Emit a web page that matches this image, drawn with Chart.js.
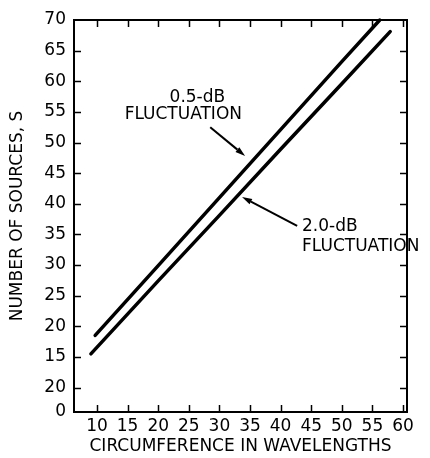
<!DOCTYPE html>
<html>
<head>
<meta charset="utf-8">
<script src="https://cdn.jsdelivr.net/npm/chart.js@4.4.1/dist/chart.umd.min.js"></script>
<style>
  html, body { margin: 0; padding: 0; background: #fff; }
  #wrap { width: 430px; height: 458px; }
</style>
</head>
<body>
<div id="wrap"><canvas id="c" width="430" height="458"></canvas></div>
<script>
/* ---------- data ---------- */
const circ05  = [9.7, 20, 30, 40, 50, 56.2];          // circumference, 0.5-dB curve
const src05   = [18.5, 29.9, 41.0, 52.1, 63.2, 70];    // number of sources
const circ20  = [9.0, 20, 30, 40, 50, 57.9];          // circumference, 2.0-dB curve
const src20   = [15.5, 27.4, 38.1, 48.9, 59.6, 68.1];

const xTickValues = [10, 15, 20, 25, 30, 35, 40, 45, 50, 55, 60];
const yTickValues = [6, 10, 15, 20, 25, 30, 35, 40, 45, 50, 55, 60, 65, 70];
// axis is broken at the bottom; labels are printed as in the original
const yTickLabels = ['0', '20', '15', '20', '25', '30', '35', '40', '45', '50', '55', '60', '65', '70'];

const X_MIN = 6.24, X_MAX = 60.65;
const Y_MIN = 6, Y_MAX = 70;

/* ---------- annotations (placed in data coords) ---------- */
const notes = [
  { text: '0.5-dB',      x: 26.4, y: 57.4, align: 'center' },
  { text: 'FLUCTUATION', x: 24.1, y: 54.5, align: 'center' },
  { text: '2.0-dB',      x: 43.5, y: 36.2, align: 'left' },
  { text: 'FLUCTUATION', x: 43.5, y: 33.0, align: 'left' },
];
const arrows = [
  { from: [28.5, 52.5], to: [34.2, 47.8] },
  { from: [42.7, 36.4], to: [33.7, 41.1] },
];

const FONT = 'DejaVu Sans';
Chart.defaults.font.family = FONT;
Chart.defaults.color = '#000';

const toPts = (xs, ys) => xs.map((v, i) => ({ x: v, y: ys[i] }));

/* frame, inward ticks, labels and arrows */
const frameAndNotes = {
  id: 'frameAndNotes',
  afterDatasetsDraw(chart) {
    const { ctx, chartArea: a, scales: { x, y } } = chart;
    const seg = (x1, y1, x2, y2) => { ctx.beginPath(); ctx.moveTo(x1, y1); ctx.lineTo(x2, y2); ctx.stroke(); };
    ctx.save();
    ctx.strokeStyle = '#000';
    ctx.lineWidth = 2;
    ctx.strokeRect(a.left, a.top, a.right - a.left, a.bottom - a.top);

    ctx.lineWidth = 1.5;
    const T = 7;
    x.ticks.forEach(t => {
      const px = Math.round(x.getPixelForValue(t.value)) + 0.5;
      if (px > a.right - 3) return;
      seg(px, a.bottom, px, a.bottom - T);
      seg(px, a.top, px, a.top + T);
    });
    y.ticks.forEach(t => {
      const py = Math.round(y.getPixelForValue(t.value)) + 0.5;
      if (py < a.top + 3 || py > a.bottom - 3) return;
      seg(a.left, py, a.left + T, py);
      seg(a.right, py, a.right - T, py);
    });

    ctx.font = '17px "' + FONT + '"';
    ctx.fillStyle = '#000';
    ctx.textBaseline = 'middle';
    notes.forEach(n => {
      ctx.textAlign = n.align;
      ctx.fillText(n.text, x.getPixelForValue(n.x), y.getPixelForValue(n.y));
    });

    ctx.lineWidth = 2;
    arrows.forEach(ar => {
      const x1 = x.getPixelForValue(ar.from[0]), y1 = y.getPixelForValue(ar.from[1]);
      const x2 = x.getPixelForValue(ar.to[0]),   y2 = y.getPixelForValue(ar.to[1]);
      const ang = Math.atan2(y2 - y1, x2 - x1);
      const L = 10, W = 3;
      const bx = x2 - L * Math.cos(ang), by = y2 - L * Math.sin(ang);
      seg(x1, y1, bx, by);
      ctx.beginPath();
      ctx.moveTo(x2, y2);
      ctx.lineTo(bx + W * Math.sin(ang), by - W * Math.cos(ang));
      ctx.lineTo(bx - W * Math.sin(ang), by + W * Math.cos(ang));
      ctx.closePath();
      ctx.fill();
    });
    ctx.restore();
  }
};

new Chart(document.getElementById('c'), {
  type: 'line',
  data: {
    datasets: [
      { label: '0.5-dB', data: toPts(circ05, src05) },
      { label: '2.0-dB', data: toPts(circ20, src20) },
    ]
  },
  options: {
    responsive: false,
    animation: false,
    clip: false,
    layout: { padding: { left: 0, top: 20, right: 23, bottom: 0 } },
    elements: {
      line: { borderColor: '#000', borderWidth: 3.5, borderCapStyle: 'round', tension: 0 },
      point: { radius: 0 }
    },
    plugins: { legend: { display: false }, tooltip: { enabled: false } },
    scales: {
      x: {
        type: 'linear', min: X_MIN, max: X_MAX,
        afterBuildTicks: s => { s.ticks = xTickValues.map(v => ({ value: v })); },
        afterFit: s => { s.height = 46; },
        grid: { display: false, drawTicks: false },
        border: { display: false },
        ticks: { font: { size: 17 }, padding: 4, maxRotation: 0, autoSkip: false },
        title: { display: true, text: 'CIRCUMFERENCE IN WAVELENGTHS', font: { size: 17 }, padding: { top: 0, bottom: 1 } }
      },
      y: {
        type: 'linear', min: Y_MIN, max: Y_MAX,
        afterBuildTicks: s => { s.ticks = yTickValues.map(v => ({ value: v })); },
        afterFit: s => { s.width = 74; },
        grid: { display: false, drawTicks: false },
        border: { display: false },
        ticks: {
          font: { size: 17 }, padding: 8, autoSkip: false,
          callback: (v) => yTickLabels[yTickValues.indexOf(v)]
        },
        title: { display: true, text: 'NUMBER OF SOURCES, S', font: { size: 17 }, padding: { top: 7, bottom: 0 } }
      }
    }
  },
  plugins: [frameAndNotes]
});
</script>
</body>
</html>
